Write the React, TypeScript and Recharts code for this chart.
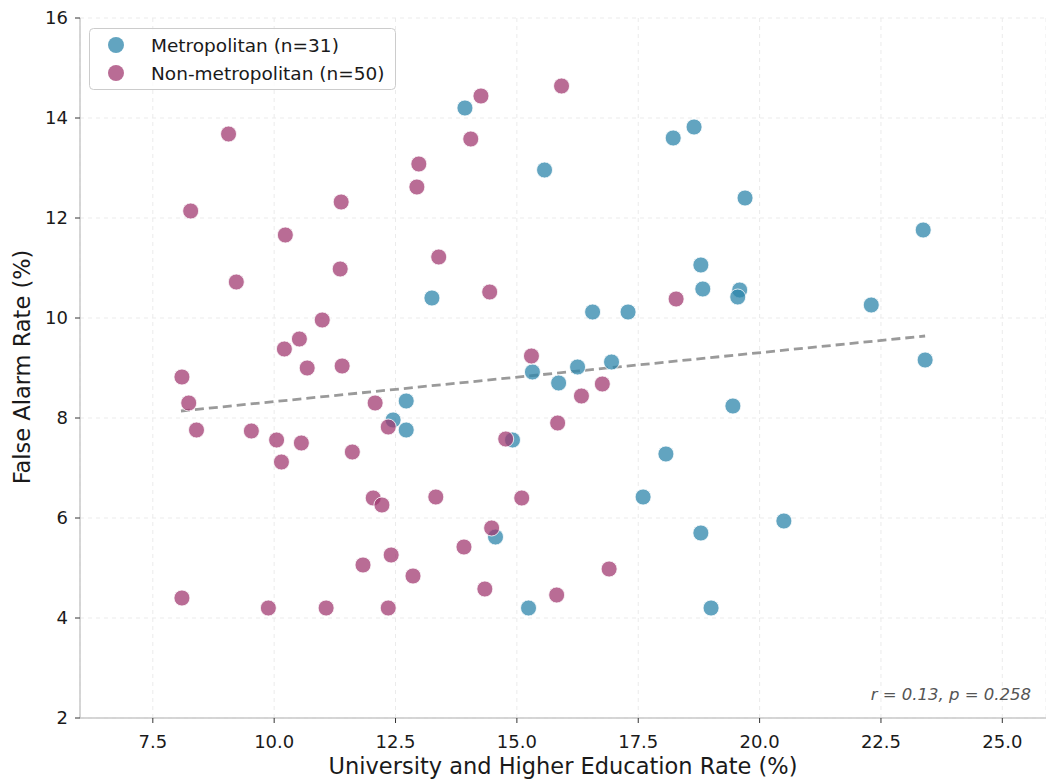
import {
  ScatterChart,
  Scatter,
  XAxis,
  YAxis,
  CartesianGrid,
  ReferenceLine,
} from "recharts";

// Metropolitan municipalities (n=31)
const metroX = [
  13.93, 15.57, 18.22, 18.65, 19.7, 23.37, 13.25, 16.56, 17.29, 18.79, 18.83,
  19.59, 19.55, 22.3, 23.41, 15.32, 16.25, 16.95, 15.86, 19.45, 12.72, 12.45,
  12.72, 14.91, 18.07, 17.6, 20.5, 18.79, 14.56, 15.24, 19.0,
];
const metroY = [
  14.2, 12.96, 13.6, 13.82, 12.4, 11.76, 10.4, 10.12, 10.12, 11.06, 10.58,
  10.56, 10.42, 10.26, 9.16, 8.92, 9.02, 9.12, 8.7, 8.24, 8.34, 7.96,
  7.76, 7.56, 7.28, 6.42, 5.94, 5.7, 5.62, 4.2, 4.2,
];

// Non-metropolitan municipalities (n=50)
const nonMetroX = [
  14.26, 15.92, 14.05, 12.98, 12.94, 13.39, 14.44, 18.28, 15.3, 9.06,
  8.28, 10.23, 11.38, 11.36, 9.22, 10.99, 10.52, 10.21, 10.68, 11.4,
  8.1, 8.24, 12.08, 8.4, 9.53, 10.05, 10.56, 10.15, 11.61, 12.35,
  12.04, 12.22, 13.33, 12.41, 11.83, 12.86, 8.1, 9.88, 11.07, 12.35,
  16.76, 16.33, 15.84, 14.77, 15.1, 14.48, 13.91, 16.9, 14.34, 15.82,
];
const nonMetroY = [
  14.44, 14.64, 13.58, 13.08, 12.62, 11.22, 10.52, 10.38, 9.24, 13.68,
  12.14, 11.66, 12.32, 10.98, 10.72, 9.96, 9.58, 9.38, 9.0, 9.04,
  8.82, 8.3, 8.3, 7.76, 7.74, 7.56, 7.5, 7.12, 7.32, 7.82,
  6.4, 6.26, 6.42, 5.26, 5.06, 4.84, 4.4, 4.2, 4.2, 4.2,
  8.68, 8.44, 7.9, 7.58, 6.4, 5.8, 5.42, 4.98, 4.58, 4.46,
];

// fitted trend (all municipalities)
const trendX = [8.08, 23.41];
const trendY = [8.14, 9.64];

const xTicks = [7.5, 10, 12.5, 15, 17.5, 20, 22.5, 25];
const yTicks = [2, 4, 6, 8, 10, 12, 14, 16];

const METRO = "#2E86AB";
const NONMETRO = "#A23B72";
const FONT = "DejaVu Sans, sans-serif";

const metroData = metroX.map((x, i) => ({ x, y: metroY[i] }));
const nonMetroData = nonMetroX.map((x, i) => ({ x, y: nonMetroY[i] }));

const dot = (color: string) => (props: any) => (
  <circle
    cx={props.cx}
    cy={props.cy}
    r={8}
    fill={color}
    fillOpacity={0.75}
    stroke="#ffffff"
    strokeWidth={0.8}
  />
);

export default function App() {
  return (
    <div style={{ position: "absolute", left: 0, top: 0, width: 1046, height: 780, background: "#fff" }}>
      <ScatterChart
        width={1046}
        height={780}
        margin={{ top: 18, right: 0, bottom: 0, left: 0 }}
        style={{ fontFamily: FONT }}
      >
        <CartesianGrid stroke="#ebebeb" strokeDasharray="4 4" />
        <XAxis
          type="number"
          dataKey="x"
          domain={[6.0, 25.9]}
          ticks={xTicks}
          tickFormatter={(v: number) => v.toFixed(1)}
          height={62}
          tick={{ fontSize: 18, fill: "#1a1a1a" }}
          tickSize={5}
          tickMargin={12}
          tickLine={{ stroke: "#333" }}
          axisLine={{ stroke: "#c8c8c8", strokeWidth: 1.5 }}
          allowDataOverflow
          label={{
            content: () => (
              <text x={563} y={774} textAnchor="middle" fontSize={22.5} fill="#1a1a1a" fontFamily={FONT}>
                University and Higher Education Rate (%)
              </text>
            ),
          }}
        />
        <YAxis
          type="number"
          dataKey="y"
          domain={[2, 16]}
          ticks={yTicks}
          width={80}
          tick={{ fontSize: 18, fill: "#1a1a1a" }}
          tickSize={5}
          tickMargin={7}
          tickLine={{ stroke: "#333" }}
          axisLine={{ stroke: "#c8c8c8", strokeWidth: 1.5 }}
          allowDataOverflow
          label={{
            content: () => (
              <text
                x={22}
                y={367}
                transform="rotate(-90 22 367)"
                textAnchor="middle"
                dominantBaseline="central"
                fontSize={22.5}
                fill="#1a1a1a"
                fontFamily={FONT}
              >
                False Alarm Rate (%)
              </text>
            ),
          }}
        />
        <Scatter name="Metropolitan (n=31)" data={metroData} shape={dot(METRO)} isAnimationActive={false} />
        <Scatter name="Non-metropolitan (n=50)" data={nonMetroData} shape={dot(NONMETRO)} isAnimationActive={false} />
        <ReferenceLine
          segment={[
            { x: trendX[0], y: trendY[0] },
            { x: trendX[1], y: trendY[1] },
          ]}
          stroke="#9a9a9a"
          strokeWidth={2.8}
          strokeDasharray="9 5"
        />
      </ScatterChart>

      <svg
        width={1046}
        height={780}
        style={{ position: "absolute", left: 0, top: 0, pointerEvents: "none" }}
        fontFamily={FONT}
      >
        <rect x={89.5} y={28.5} width={306} height={61} rx={4} fill="#fff" fillOpacity={0.8} stroke="#cccccc" />
        <circle cx={116} cy={45} r={8} fill={METRO} fillOpacity={0.75} />
        <text x={151} y={51.5} fontSize={18.5} fill="#1a1a1a">Metropolitan (n=31)</text>
        <circle cx={116} cy={73} r={8} fill={NONMETRO} fillOpacity={0.75} />
        <text x={151} y={79.5} fontSize={18.5} fill="#1a1a1a">Non-metropolitan (n=50)</text>
        <text x={1031} y={700} textAnchor="end" fontSize={16.5} fontStyle="italic" fill="#555">
          r = 0.13, p = 0.258
        </text>
      </svg>
    </div>
  );
}
